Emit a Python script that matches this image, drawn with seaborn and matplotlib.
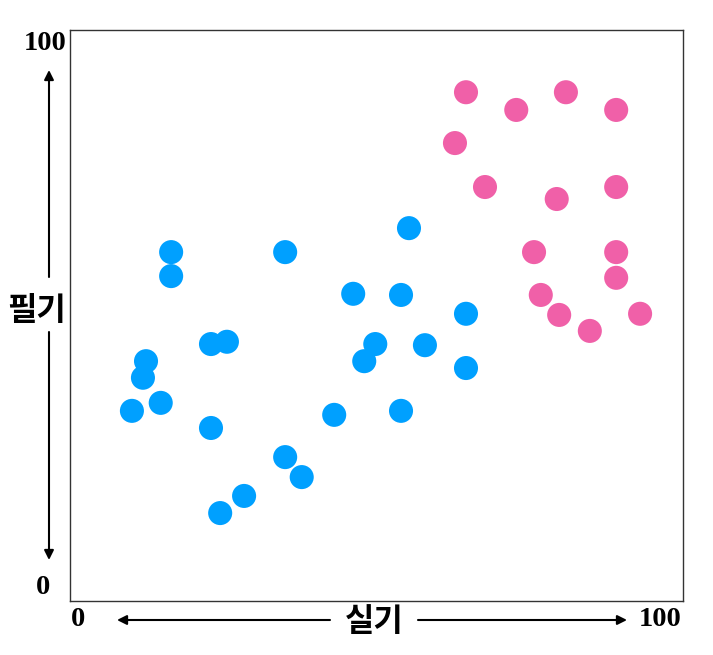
import pandas as pd
import matplotlib
matplotlib.use("Agg")
import matplotlib.pyplot as plt
import seaborn as sns

# 실기 (x) / 필기 (y) scores
blue_x = [16.5, 16.5, 12.4, 11.9, 10.1, 14.8, 23.0, 25.6, 23.0, 35.1, 35.1, 37.8,
          28.4, 24.5, 43.1, 46.2, 48.0, 49.8, 54.0, 55.3, 57.9, 54.0, 64.6, 64.6]
blue_y = [61.1, 56.9, 42.0, 39.1, 33.3, 34.7, 45.0, 45.4, 30.3, 61.1, 25.2, 21.7,
          18.4, 15.4, 32.6, 53.8, 42.0, 45.0, 53.6, 65.3, 44.8, 33.3, 50.3, 40.8]
pink_x = [64.6, 72.8, 80.9, 89.1, 62.8, 67.7, 79.4, 89.1, 75.7, 89.1, 89.1,
          76.8, 79.8, 84.8, 93.0]
pink_y = [89.1, 86.0, 89.1, 86.0, 80.2, 72.5, 70.4, 72.5, 61.1, 61.1, 56.6,
          53.6, 50.1, 47.3, 50.3]

df = pd.DataFrame({
    "x": blue_x + pink_x,
    "y": blue_y + pink_y,
    "group": ["blue"] * len(blue_x) + ["pink"] * len(pink_x),
})

sns.set_style("white")

fig = plt.figure(figsize=(7.13, 6.55), dpi=100)
ax = fig.add_axes([70 / 713, 54 / 655, 613 / 713, 571 / 655])

sns.scatterplot(data=df, x="x", y="y", hue="group",
                palette={"blue": "#00A0FF", "pink": "#F060A8"},
                s=300, linewidth=0, legend=False, ax=ax)

ax.set_xlim(0, 100)
ax.set_ylim(0, 100)
ax.set_xticks([])
ax.set_yticks([])
ax.set_xlabel("")
ax.set_ylabel("")
for sp in ax.spines.values():
    sp.set_color("#333333")
    sp.set_linewidth(1.0)

# corner numbers
num_font = dict(family="Liberation Serif", weight="bold", fontsize=20.5, color="black")
fig.text(45 / 713, 1 - 44 / 655, "100", ha="center", va="center", **num_font)
fig.text(43 / 713, 1 - 587 / 655, "0", ha="center", va="center", **num_font)
fig.text(78 / 713, 1 - 620 / 655, "0", ha="center", va="center", **num_font)
fig.text(660 / 713, 1 - 620 / 655, "100", ha="center", va="center", **num_font)

# axis names
kr_font = dict(family=["Noto Sans CJK KR", "DejaVu Sans"], weight="bold", fontsize=23, color="black")
fig.text(374 / 713, 1 - 622 / 655, "실기", ha="center", va="center", **kr_font)
fig.text(37 / 713, 1 - 311 / 655, "필기", ha="center", va="center", **kr_font)

# arrows
arr = dict(arrowstyle="-|>", color="black", lw=1.5, mutation_scale=14, shrinkA=0, shrinkB=0)
ax.annotate("", xy=(117, 655 - 620), xytext=(330, 655 - 620),
            xycoords="figure pixels", textcoords="figure pixels", arrowprops=arr, annotation_clip=False)
ax.annotate("", xy=(627, 655 - 620), xytext=(418, 655 - 620),
            xycoords="figure pixels", textcoords="figure pixels", arrowprops=arr, annotation_clip=False)
ax.annotate("", xy=(49, 655 - 70), xytext=(49, 655 - 277),
            xycoords="figure pixels", textcoords="figure pixels", arrowprops=arr, annotation_clip=False)
ax.annotate("", xy=(49, 655 - 560), xytext=(49, 655 - 332),
            xycoords="figure pixels", textcoords="figure pixels", arrowprops=arr, annotation_clip=False)

fig.savefig("out.png", dpi=100)
